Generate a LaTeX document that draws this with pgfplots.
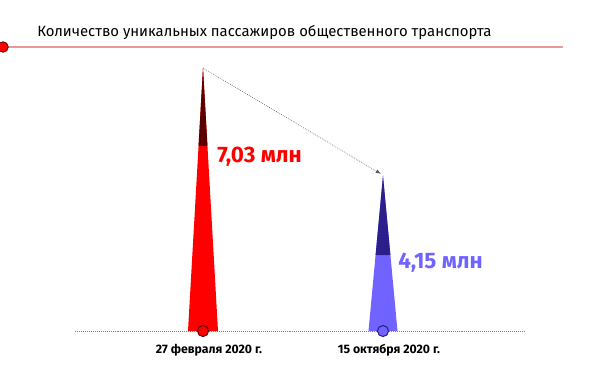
\documentclass[border=0pt]{standalone}
\usepackage{pgfplots}
\pgfplotsset{compat=1.18}
\usepackage{fontspec}
\setmainfont{Fira Sans}
\usetikzlibrary{arrows.meta}
\definecolor{cred}{HTML}{FF0000}
\definecolor{cdarkred}{HTML}{5A0000}
\definecolor{cblue}{HTML}{7163FF}
\definecolor{cdarkblue}{HTML}{2B1F8C}
\definecolor{cline}{HTML}{E89A9A}
\begin{document}
\begin{tikzpicture}
\begin{axis}[
  width=16cm, height=10cm, scale only axis,
  axis lines=none,
  xmin=0, xmax=600,
  ymin=-1.176, ymax=8.848,
  clip=false,
]
% baseline
\addplot[gray, densely dotted, line width=0.5pt] coordinates {(75,0) (525,0)};
% red spike (27 Feb 2020: 7.03 M)
\addplot[fill=cred, draw=none] coordinates {(188,0) (203,7.03) (218,0)} -- cycle;
\addplot[fill=cdarkred, draw=none] coordinates {(198.55,4.945) (203,7.03) (207.45,4.945)} -- cycle;
% blue spike (15 Oct 2020: 4.15 M)
\addplot[fill=cblue, draw=none] coordinates {(368.5,0) (383,4.15) (397.5,0)} -- cycle;
\addplot[fill=cdarkblue, draw=none] coordinates {(375.6,2.03) (383,4.15) (390.4,2.03)} -- cycle;
% arrow
\addplot[gray!70!black, densely dotted, line width=0.5pt, -{Latex[length=4pt,width=3pt]}] coordinates {(203,7.03) (381,4.2)};
% base markers
\addplot[only marks, mark=*, mark size=4.2pt, mark options={fill=cred, draw=cdarkred, line width=0.8pt}] coordinates {(203,0)};
\addplot[only marks, mark=*, mark size=4.2pt, mark options={fill=cblue, draw=cdarkblue, line width=0.8pt}] coordinates {(383,0)};
% title line
\addplot[cline, line width=0.8pt] coordinates {(0,7.591) (563,7.591)};
\addplot[only marks, mark=*, mark size=4pt, mark options={fill=cred, draw=cdarkred, line width=0.6pt}] coordinates {(3,7.591)};
% texts
\node[anchor=west, inner sep=0pt, font=\fontsize{11.3}{13}\selectfont] at (axis cs:37,7.99) {Количество уникальных пассажиров общественного транспорта};
\node[anchor=west, inner sep=0pt, text=cred, font=\fontsize{17}{20}\bfseries] at (axis cs:217,4.651) {7,03 млн};
\node[anchor=west, inner sep=0pt, text=cblue, font=\fontsize{17}{20}\bfseries] at (axis cs:398,1.818) {4,15 млн};
\node[font=\fontsize{9.3}{11}\bfseries] at (axis cs:209,-0.508) {27 февраля 2020 г.};
\node[font=\fontsize{9.3}{11}\bfseries] at (axis cs:389,-0.508) {15 октября 2020 г.};
\coordinate (bl) at (rel axis cs:0,0);
\coordinate (tr) at (rel axis cs:1,1);
\end{axis}
\pgfresetboundingbox
\path (bl) rectangle (tr);
\end{tikzpicture}
\end{document}
